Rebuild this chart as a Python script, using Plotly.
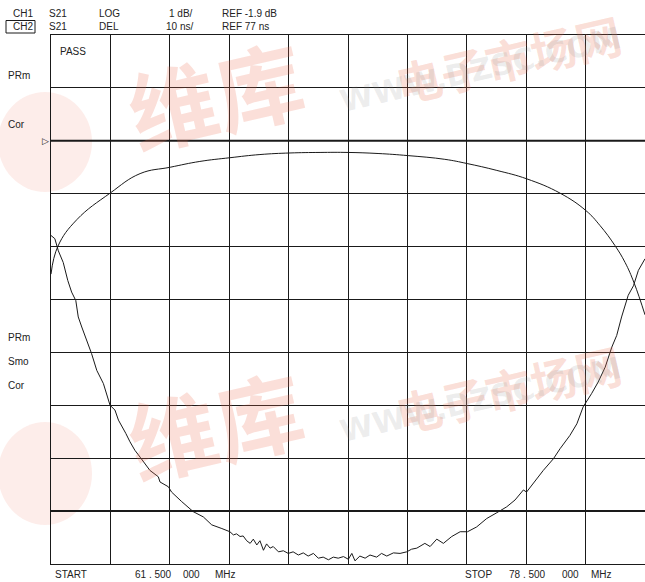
import plotly.graph_objects as go

# ---- data ----
f_start, f_stop = 61.5, 78.5          # MHz
ch1_ref, ch1_scale = -1.9, 1.0        # dB, dB/div
ch2_ref, ch2_scale = 77.0, 10.0       # ns, ns/div
ch1_ref_div, ch2_ref_div = 8, 1       # ref line position (divisions from bottom)

ch1_freq = [61.50, 61.70, 62.24, 63.19, 64.05, 64.91, 65.76, 66.62, 67.48, 68.34,
            69.20, 70.00, 70.86, 71.72, 72.77, 73.41, 74.26, 75.12, 76.07, 76.81,
            77.21, 77.64, 77.93, 78.19, 78.50]
ch1_db = [-4.42, -3.89, -3.39, -2.89, -2.52, -2.40, -2.29, -2.22, -2.16, -2.13,
          -2.12, -2.12, -2.14, -2.18, -2.25, -2.33, -2.46, -2.62, -2.89, -3.22,
          -3.50, -3.88, -4.20, -4.59, -5.19]

ch2_freq = [61.50, 61.61, 61.71, 61.85, 61.98, 62.09, 62.21, 62.28, 62.38, 62.52,
            62.66, 62.81, 63.00, 63.19, 63.33, 63.43, 63.52, 63.64, 63.76, 63.90,
            64.05, 64.19, 64.33, 64.57, 64.62, 64.86, 64.95, 65.24, 65.43, 65.57,
            65.86, 66.10, 66.39,
            66.62, 66.72, 66.81, 66.91, 67.00, 67.10, 67.20, 67.29, 67.39, 67.48,
            67.58, 67.67, 67.77, 67.86, 68.01, 68.15, 68.29, 68.43, 68.58, 68.72,
            68.86, 69.01, 69.15, 69.29, 69.44, 69.58, 69.72, 69.87, 70.01, 70.11,
            70.20, 70.34, 70.49, 70.63, 70.82, 70.96, 71.11, 71.30, 71.49, 71.68,
            71.82, 71.97, 72.20, 72.35,
            72.54, 72.73, 72.97, 73.21, 73.42, 73.68,
            73.97, 74.26, 74.54, 74.78, 75.02, 75.11, 75.30, 75.59, 75.88, 76.07,
            76.35, 76.55, 76.73, 76.80, 76.97, 77.16, 77.36, 77.55, 77.69, 77.83,
            78.02, 78.17, 78.31, 78.50]
ch2_ns = [129.1, 128.5, 126.2, 124.0, 120.6, 118.4, 116.8, 113.7, 111.8, 109.3,
          106.8, 103.6, 101.1, 97.0, 96.1, 94.2, 93.2, 91.7, 90.1, 88.5,
          87.2, 86.0, 84.7, 83.5, 82.5, 81.6, 80.6, 78.8, 77.7, 76.9,
          75.9, 74.4, 73.7,
          73.1, 72.5, 72.7, 72.2, 72.3, 71.4, 70.9, 71.7, 70.6, 71.4,
          69.6, 70.8, 70.0, 70.3, 69.3, 69.5, 69.0, 69.3, 68.7, 69.1,
          68.5, 69.0, 68.1, 68.3, 67.8, 68.3, 68.1, 68.4, 67.9, 69.0,
          67.6, 68.5, 68.1, 68.7, 68.3, 69.0, 68.5, 69.1, 69.0, 69.3,
          69.8, 70.0, 70.9, 70.3,
          71.7, 70.9, 72.2, 73.1, 73.1, 74.0,
          75.6, 76.7, 77.8, 79.1, 81.0, 80.6, 82.2, 84.7, 86.9, 88.8,
          91.3, 93.5, 96.7, 97.4, 99.2, 101.4, 104.2, 108.0, 110.2, 113.7,
          117.8, 119.6, 122.5, 124.7]

header_rows = [
    ["CH1", "S21", "LOG", "1 dB/", "REF -1.9 dB"],
    ["CH2", "S21", "DEL", "10 ns/", "REF 77 ns"],
]
left_labels_top = ["PRm", "Cor"]
left_labels_bottom = ["PRm", "Smo", "Cor"]
footer_labels = ["START", "61 . 500", "000", "MHz", "STOP", "78 . 500", "000", "MHz"]
watermark_big, watermark_small, watermark_url = "维库", "电子市场网", "WWW.DZSC.COM"

# ---- layout geometry (window pixels) ----
W, H = 645, 582
PLOT_L, PLOT_R, PLOT_T, PLOT_B = 51, 645, 35, 564   # plot area in pixels
PW, PH = PLOT_R - PLOT_L, PLOT_B - PLOT_T


def px(x):
    return (x - PLOT_L) / PW


def py(y):
    return (PLOT_B - y) / PH


FONT = dict(family="Liberation Sans, Arial, sans-serif", size=10, color="#222")
INK = "#1a1a1a"
WM_RED = "rgba(235,110,80,0.22)"
WM_GRAY = "rgba(140,140,140,0.16)"

ch1_range = [ch1_ref - ch1_ref_div * ch1_scale, ch1_ref + (10 - ch1_ref_div) * ch1_scale]
ch2_range = [ch2_ref - ch2_ref_div * ch2_scale, ch2_ref + (10 - ch2_ref_div) * ch2_scale]

fig = go.Figure()
fig.add_trace(go.Scatter(x=ch1_freq, y=ch1_db, mode="lines", yaxis="y",
                         line=dict(color=INK, width=1, shape="spline", smoothing=1.2),
                         showlegend=False, hoverinfo="skip"))
fig.add_trace(go.Scatter(x=ch2_freq, y=ch2_ns, mode="lines", yaxis="y2",
                         line=dict(color=INK, width=1),
                         showlegend=False, hoverinfo="skip"))

ann = []
# watermark (faint), upper and lower copies
for dy in (0, 330):
    ann.append(dict(xref="paper", yref="paper", x=px(215), y=py(92 + dy), text="<b>" + watermark_big + "</b>",
                    showarrow=False, textangle=-13, xanchor="center", yanchor="middle",
                    font=dict(family="Noto Sans CJK SC", size=88, color=WM_RED)))
    ann.append(dict(xref="paper", yref="paper", x=px(508), y=py(58 + dy), text="<b>" + watermark_small + "</b>",
                    showarrow=False, textangle=-13, xanchor="center", yanchor="middle",
                    font=dict(family="Noto Sans CJK SC", size=46, color=WM_RED)))
    ann.append(dict(xref="paper", yref="paper", x=px(480), y=py(70 + dy), text="<b>" + watermark_url + "</b>",
                    showarrow=False, textangle=-13, xanchor="center", yanchor="middle",
                    font=dict(family="DejaVu Sans", size=30, color=WM_GRAY)))

# header
col_x = [(11, "left"), (47, "left"), (97, "left"), (195, "right"), (220, "left")]
for r, row in enumerate(header_rows):
    yy = 13 + r * 13.5
    for (cx, anc), txt in zip(col_x, row):
        ann.append(dict(xref="paper", yref="paper", x=px(cx), y=py(yy), text=txt,
                        showarrow=False, xanchor=anc, yanchor="middle", font=FONT))
# PASS
ann.append(dict(xref="paper", yref="paper", x=px(58), y=py(52), text="PASS",
                showarrow=False, xanchor="left", yanchor="middle", font=FONT))
for t, yy in zip(left_labels_top, [76, 124]):
    ann.append(dict(xref="paper", yref="paper", x=px(6), y=py(yy), text=t,
                    showarrow=False, xanchor="left", yanchor="middle", font=FONT))
for t, yy in zip(left_labels_bottom, [337, 361, 385]):
    ann.append(dict(xref="paper", yref="paper", x=px(6), y=py(yy), text=t,
                    showarrow=False, xanchor="left", yanchor="middle", font=FONT))
foot_x = [53, 133, 181, 213, 463, 507, 560, 589]
for t, xx in zip(footer_labels, foot_x):
    ann.append(dict(xref="paper", yref="paper", x=px(xx), y=py(574), text=t,
                    showarrow=False, xanchor="left", yanchor="middle", font=FONT))
# reference marker
ann.append(dict(xref="paper", yref="y", x=px(50.5), y=ch1_ref, text="▷",
                showarrow=False, xanchor="right", yanchor="middle",
                font=dict(family="DejaVu Sans", size=9, color=INK)))

shapes = [
    # CH2 box
    dict(type="rect", xref="paper", yref="paper", x0=px(6), x1=px(35), y0=py(33), y1=py(20.5),
         line=dict(color=INK, width=1)),
    # watermark logo circles
    dict(type="circle", xref="paper", yref="paper", x0=px(-2), x1=px(92), y0=py(192), y1=py(92),
         line=dict(width=0), fillcolor="rgba(235,110,80,0.12)", layer="below"),
    dict(type="circle", xref="paper", yref="paper", x0=px(-2), x1=px(92), y0=py(525), y1=py(422),
         line=dict(width=0), fillcolor="rgba(235,110,80,0.12)", layer="below"),
    # reference lines (heavier)
    dict(type="line", xref="paper", yref="y", x0=0, x1=1, y0=ch1_ref, y1=ch1_ref,
         line=dict(color=INK, width=2)),
    dict(type="line", xref="paper", yref="y2", x0=0, x1=1, y0=ch2_ref, y1=ch2_ref,
         line=dict(color=INK, width=2)),
]

axis_common = dict(showticklabels=False, ticks="", zeroline=False, showgrid=True,
                   gridcolor=INK, gridwidth=1.2, showline=True, linecolor=INK,
                   linewidth=1.2, mirror=True, fixedrange=True)

fig.update_layout(
    width=W, height=H,
    margin=dict(l=PLOT_L, r=W - PLOT_R, t=PLOT_T, b=H - PLOT_B, pad=0),
    paper_bgcolor="white", plot_bgcolor="rgba(0,0,0,0)",
    xaxis=dict(range=[f_start, f_stop], tick0=f_start, dtick=(f_stop - f_start) / 10,
               **axis_common),
    yaxis=dict(range=ch1_range, tick0=ch1_range[0], dtick=ch1_scale, **axis_common),
    yaxis2=dict(range=ch2_range, overlaying="y", showgrid=False, showticklabels=False,
                ticks="", zeroline=False, fixedrange=True),
    annotations=ann, shapes=shapes, showlegend=False,
)

fig.write_html("out.html", config={"displayModeBar": False},
               post_script="document.body.style.margin='0';document.body.style.overflow='hidden';")
